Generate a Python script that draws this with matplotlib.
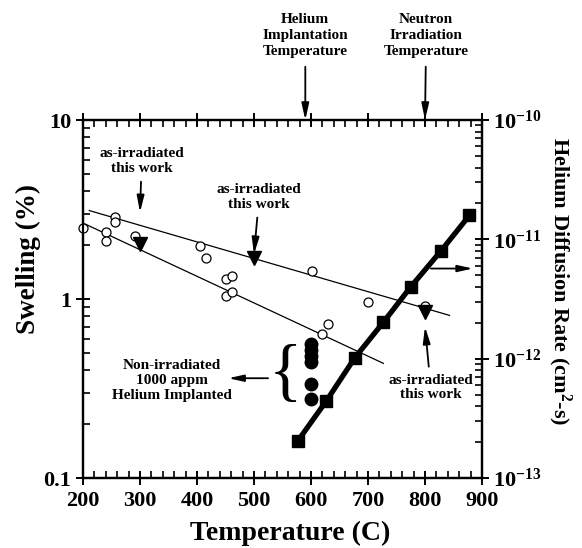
import matplotlib
matplotlib.use('Agg')
import matplotlib.pyplot as plt
import matplotlib.ticker as mt
import numpy as np

plt.rcParams['font.family'] = 'Liberation Serif'
plt.rcParams['font.weight'] = 'bold'
plt.rcParams['axes.labelweight'] = 'bold'
plt.rcParams['mathtext.fontset'] = 'custom'
plt.rcParams['mathtext.rm'] = 'Liberation Serif:bold'
plt.rcParams['mathtext.it'] = 'Liberation Serif:bold'
plt.rcParams['mathtext.bf'] = 'Liberation Serif:bold'

# swelling, open circles (literature)
lit_T = [200, 241, 241, 256, 256, 291, 406, 415, 450, 462, 450, 462, 601, 620, 630, 700, 800]
lit_S = [2.5, 2.36, 2.10, 2.89, 2.71, 2.26, 1.99, 1.70, 1.30, 1.35, 1.04, 1.09, 1.44, 0.64, 0.727, 0.965, 0.91]
# as-irradiated, this work
irr_T = [300, 500, 800]
irr_S = [2.03, 1.70, 0.845]
# non-irradiated, 1000 appm He implanted
imp_T = [600, 600, 600, 600, 600, 600]
imp_S = [0.558, 0.517, 0.478, 0.443, 0.334, 0.275]
# trend lines (end points)
up_T = [211, 843]
up_S = [3.12, 0.81]
lo_T = [203, 727]
lo_S = [2.63, 0.437]
# helium diffusion rate (right axis)
dif_T = [577, 627, 677, 727, 775, 828, 878]
dif_D = [2.05e-13, 4.43e-13, 1.02e-12, 2.02e-12, 4.0e-12, 8.0e-12, 1.59e-11]

fig = plt.figure(figsize=(5.82, 5.48), dpi=100)
ax = fig.add_axes([0.1426, 0.1277, 0.6856, 0.6533])
ax2 = ax.twinx()

ax.plot(up_T, up_S, 'k-', lw=0.9)
ax.plot(lo_T, lo_S, 'k-', lw=0.9)
ax.plot(lit_T, lit_S, 'o', mfc='white', mec='k', mew=0.9, ms=6.5, clip_on=False, zorder=5)
ax.plot(irr_T, irr_S, 'v', color='k', ms=10, zorder=5)
ax.plot(imp_T, imp_S, 'o', color='k', ms=9, zorder=5)
ax2.plot(dif_T, dif_D, 'k-s', lw=3.8, ms=8.5)

ax.set_yscale('log')
ax.set_ylim(0.1, 10)
ax.set_xlim(200, 900)
ax2.set_yscale('log')
ax2.set_ylim(1e-13, 1e-10)

ax.set_xticks(np.arange(200, 901, 100))
ax.xaxis.set_minor_locator(mt.MultipleLocator(20))
ax.yaxis.set_major_locator(mt.FixedLocator([0.1, 1, 10]))
ax.yaxis.set_minor_locator(mt.FixedLocator([m * d for d in (0.1, 1) for m in range(2, 10)]))
ax.yaxis.set_major_formatter(mt.FixedFormatter(['0.1', '1', '10']))
ax.yaxis.set_minor_formatter(mt.NullFormatter())
ax2.yaxis.set_major_locator(mt.FixedLocator([1e-13, 1e-12, 1e-11, 1e-10]))
ax2.yaxis.set_minor_locator(mt.FixedLocator([m * d for d in (1e-13, 1e-12, 1e-11) for m in range(2, 10)]))
ax2.yaxis.set_major_formatter(mt.FixedFormatter([r'10$^{-13}$', r'10$^{-12}$', r'10$^{-11}$', r'10$^{-10}$']))
ax2.yaxis.set_minor_formatter(mt.NullFormatter())

for a in (ax, ax2):
    for s in a.spines.values():
        s.set_linewidth(1.6)
    a.tick_params(which='major', direction='inout', length=10, width=1.4, labelsize=16)
    a.tick_params(which='minor', direction='in', length=5, width=1.2)
ax.tick_params(top=True, right=False, which='both')
ax.tick_params(axis='x', pad=4)
ax2.tick_params(axis='y', pad=3)

fig.text(290 / 582, 1 - 533 / 548, 'Temperature (C)', fontsize=20, ha='center', va='center')
fig.text(28 / 582, 1 - 259 / 548, 'Swelling (%)', fontsize=19.5, rotation=90, ha='center', va='center')
fig.text(560 / 582, 1 - 281 / 548, 'Helium Diffusion Rate (cm$^{2}$-s)', fontsize=16, rotation=-90,
         ha='center', va='center')

arr = dict(arrowstyle='-|>,head_length=0.9,head_width=0.2', color='k', lw=1.3, shrinkA=3, shrinkB=0)
fs = 11
ax.annotate('as-irradiated\nthis work', xy=(300, 3.05), xytext=(303, 5.9), ha='center', va='center',
            fontsize=fs, arrowprops=arr, linespacing=1.15)
ax.annotate('as-irradiated\nthis work', xy=(500, 1.78), xytext=(509, 3.72), ha='center', va='center',
            fontsize=fs, arrowprops=arr, linespacing=1.15)
ax.annotate('as-irradiated\nthis work', xy=(800, 0.70), xytext=(810, 0.321), ha='center', va='center',
            fontsize=fs, arrowprops=arr, linespacing=1.15)
ax.annotate('', xy=(884, 1.48), xytext=(803, 1.48), arrowprops=arr)
ax.text(356, 0.35, 'Non-irradiated\n1000 appm\nHelium Implanted', ha='center', va='center',
        fontsize=fs, linespacing=1.2)
ax.annotate('', xy=(455, 0.361), xytext=(532, 0.361), arrowprops=arr)
ax.text(555, 0.37, '{', fontsize=50, fontweight='normal', ha='center', va='center')

tarr = dict(arr, shrinkA=4)
ax.annotate('Helium\nImplantation\nTemperature', xy=(590, 1.0), xytext=(590, 1.235),
            xycoords=('data', 'axes fraction'), textcoords=('data', 'axes fraction'),
            ha='center', va='center', fontsize=fs, arrowprops=tarr, annotation_clip=False, linespacing=1.3)
ax.annotate('Neutron\nIrradiation\nTemperature', xy=(800, 1.0), xytext=(802, 1.235),
            xycoords=('data', 'axes fraction'), textcoords=('data', 'axes fraction'),
            ha='center', va='center', fontsize=fs, arrowprops=tarr, annotation_clip=False, linespacing=1.3)

fig.savefig('out.png', dpi=100)
